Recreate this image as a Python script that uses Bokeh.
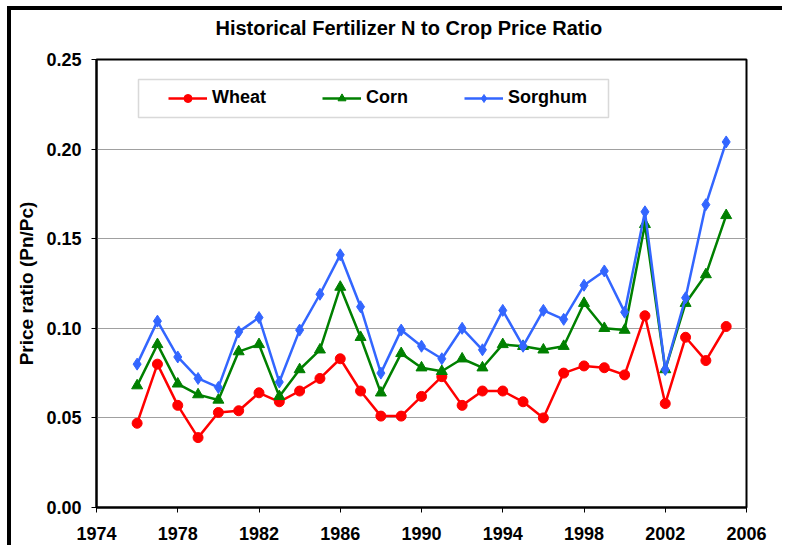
from bokeh.plotting import figure
from bokeh.models import (Range1d, FixedTicker, NumeralTickFormatter, Legend, LegendItem,
                          BoxAnnotation, Title)
from bokeh.embed import file_html
from bokeh.resources import INLINE

years = [1976, 1977, 1978, 1979, 1980, 1981, 1982, 1983, 1984, 1985,
         1986, 1987, 1988, 1989, 1990, 1991, 1992, 1993, 1994, 1995,
         1996, 1997, 1998, 1999, 2000, 2001, 2002, 2003, 2004, 2005]
wheat = [0.047, 0.080, 0.057, 0.039, 0.053, 0.054, 0.064, 0.059, 0.065, 0.072,
         0.083, 0.065, 0.051, 0.051, 0.062, 0.073, 0.057, 0.065, 0.065, 0.059,
         0.050, 0.075, 0.079, 0.078, 0.074, 0.107, 0.058, 0.095, 0.082, 0.101]
corn = [0.068, 0.091, 0.069, 0.063, 0.060, 0.087, 0.091, 0.062, 0.077, 0.088,
        0.123, 0.095, 0.064, 0.086, 0.078, 0.076, 0.083, 0.078, 0.091, 0.090,
        0.088, 0.090, 0.114, 0.100, 0.099, 0.158, 0.077, 0.114, 0.130, 0.163]
sorghum = [0.080, 0.104, 0.084, 0.072, 0.067, 0.098, 0.106, 0.070, 0.099, 0.119,
           0.141, 0.112, 0.075, 0.099, 0.090, 0.083, 0.100, 0.088, 0.110, 0.090,
           0.110, 0.105, 0.124, 0.132, 0.109, 0.165, 0.077, 0.117, 0.169, 0.204]
x_ticks = [1974, 1978, 1982, 1986, 1990, 1994, 1998, 2002, 2006]
y_ticks = [0.0, 0.05, 0.10, 0.15, 0.20, 0.25]
series_names = ["Wheat", "Corn", "Sorghum"]

FONT = "Liberation Sans"

p = figure(width=775, height=539, output_backend="svg", toolbar_location=None,
           x_range=Range1d(1974, 2006), y_range=Range1d(0, 0.25))
# outer chart-area edge: only its left and top sides fall inside the picture
p.styles = {"position": "relative", "left": "11px", "top": "10px",
            "box-shadow": "-4px -4px 0px 0px black"}
p.min_border_left = 85
p.min_border_top = 49
p.min_border_right = 40
p.min_border_bottom = 42

# spacer between frame and title, then the title itself
p.add_layout(Title(text=" ", text_font_size="1px", standoff=16), "above")
p.add_layout(Title(text="Historical Fertilizer N to Crop Price Ratio", align="left",
                   offset=119, text_font=FONT, text_font_size="20px",
                   text_font_style="bold", text_color="black", standoff=4), "above")

p.outline_line_color = "black"
p.outline_line_width = 2

p.xgrid.visible = False
p.ygrid.grid_line_color = "#A0A0A0"
p.ygrid.grid_line_width = 1

for ax in (p.xaxis[0], p.yaxis[0]):
    ax.axis_line_color = "black"
    ax.axis_line_width = 2
    ax.major_tick_line_color = "black"
    ax.major_tick_line_width = 1
    ax.major_tick_in = 0
    ax.major_tick_out = 5
    ax.minor_tick_line_color = None
    ax.major_label_text_font = FONT
    ax.major_label_text_font_size = "18px"
    ax.major_label_text_font_style = "bold"
    ax.major_label_text_color = "black"

p.xaxis.ticker = FixedTicker(ticks=x_ticks)
p.xaxis.major_label_standoff = 14
p.yaxis.ticker = FixedTicker(ticks=y_ticks)
p.yaxis.formatter = NumeralTickFormatter(format="0.00")
p.yaxis.major_label_standoff = 10
p.yaxis.axis_label = "Price ratio (Pn/Pc)"
p.yaxis.axis_label_text_font = FONT
p.yaxis.axis_label_text_font_size = "19px"
p.yaxis.axis_label_text_font_style = "bold"
p.yaxis.axis_label_text_color = "black"
p.yaxis.axis_label_standoff = 6

# legend frame box
box = BoxAnnotation(left=42, right=512, bottom=390, top=428,
                    left_units="screen", right_units="screen",
                    bottom_units="screen", top_units="screen",
                    fill_color="white", fill_alpha=1.0,
                    line_color="#808080", line_width=1.5)
p.add_layout(box)

styles = [("red", "circle", 10), ("green", "triangle", 11), ("#3366FF", "diamond", 12)]
items = []
for name, vals, (col, mk, sz) in zip(series_names, [wheat, corn, sorghum], styles):
    r1 = p.line(years, vals, line_color=col, line_width=2.5)
    r2 = p.scatter(years, vals, marker=mk, size=sz, fill_color=col, line_color=col)
    items.append(LegendItem(label=name, renderers=[r1, r2]))

legend = Legend(items=items, orientation="horizontal", location=(63, 390),
                padding=9, spacing=56, glyph_width=39, glyph_height=20,
                label_standoff=5, label_text_font=FONT, label_text_font_size="18px",
                label_text_font_style="bold", label_text_color="black",
                border_line_alpha=0, background_fill_alpha=0, margin=0)
p.add_layout(legend, "center")

open("out.html", "w").write(file_html(p, INLINE))
